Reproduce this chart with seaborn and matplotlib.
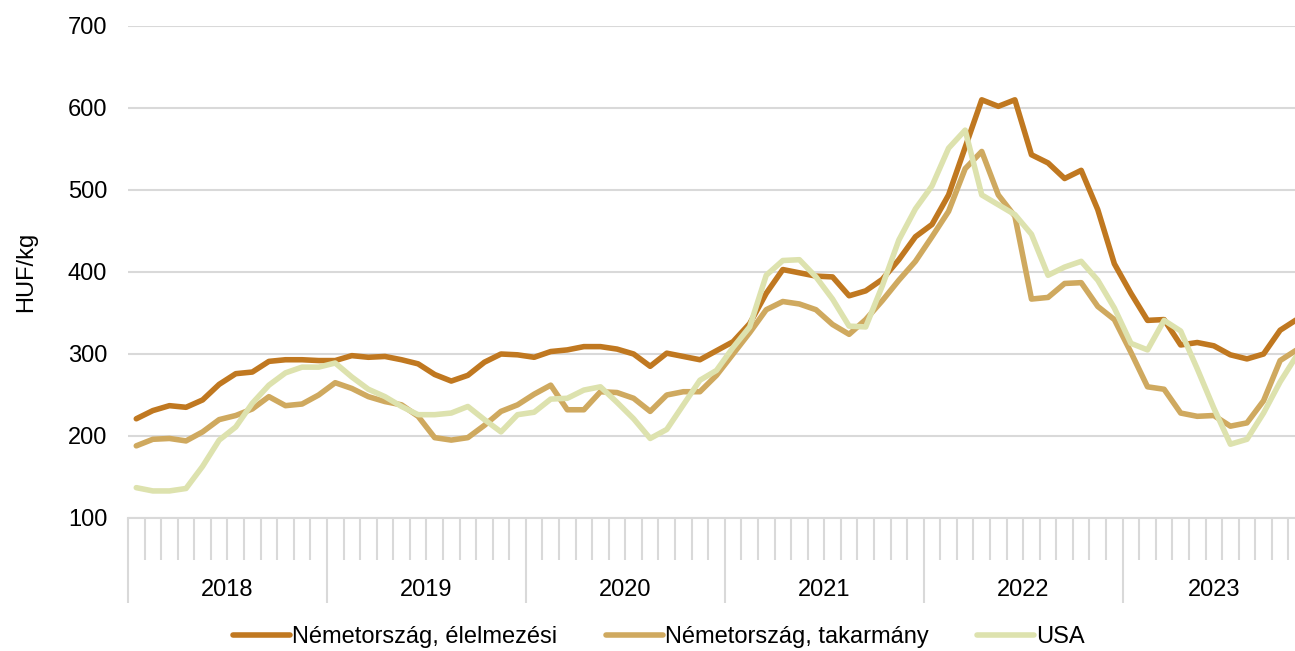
import numpy as np
import pandas as pd
import seaborn as sns
import matplotlib.pyplot as plt
from matplotlib.lines import Line2D

sns.set_theme(style="white")
plt.rcParams["font.family"] = ["Liberation Sans", "DejaVu Sans"]
plt.rcParams["text.color"] = "black"

# monthly data, Jan 2018 - Nov 2023
months = pd.period_range("2018-01", "2023-11", freq="M")
years = ["2018", "2019", "2020", "2021", "2022", "2023"]

nemet_elelmezesi = [
    221, 231, 237, 235, 244, 263, 276, 278, 291, 293, 293, 292,
    292, 298, 296, 297, 293, 288, 275, 267, 274, 290, 300, 299,
    296, 303, 305, 309, 309, 306, 300, 285, 301, 297, 293, 304,
    315, 337, 374, 403, 399, 395, 394, 371, 377, 391, 415, 443,
    458, 494, 552, 610, 602, 610, 543, 533, 514, 524, 476, 410,
    374, 341, 342, 311, 314, 310, 299, 294, 300, 329, 342,
]
nemet_takarmany = [
    188, 196, 197, 194, 205, 220, 225, 233, 248, 237, 239, 250,
    265, 258, 248, 242, 238, 224, 198, 195, 198, 213, 230, 238,
    251, 262, 232, 232, 254, 253, 246, 230, 250, 254, 254, 274,
    300, 326, 354, 364, 361, 354, 336, 324, 342, 365, 390, 413,
    443, 474, 526, 547, 494, 468, 367, 369, 386, 387, 358, 342,
    302, 260, 257, 228, 224, 225, 212, 216, 243, 292, 305,
]
usa = [
    137, 133, 133, 136, 163, 195, 211, 240, 262, 277, 284, 284,
    289, 272, 257, 248, 236, 226, 226, 228, 236, 220, 205, 226,
    229, 245, 246, 256, 260, 241, 221, 197, 208, 238, 268, 280,
    308, 333, 396, 414, 415, 394, 367, 334, 333, 383, 439, 477,
    505, 551, 573, 494, 482, 470, 446, 396, 406, 413, 390, 356,
    313, 305, 341, 328, 282, 234, 190, 196, 228, 266, 298,
]

series_names = ["Németország, élelmezési", "Németország, takarmány", "USA"]
series_colors = ["#C07820", "#CFA95F", "#DDE2AE"]
grid_color = "#D9D9D9"
line_w = 4.0

df = pd.DataFrame({
    "honap": np.arange(len(months)),
    series_names[0]: nemet_elelmezesi,
    series_names[1]: nemet_takarmany,
    series_names[2]: usa,
}).melt(id_vars="honap", var_name="sorozat", value_name="ar")

fig = plt.figure(figsize=(12.95, 6.51), dpi=100)
# plot area runs slightly past the right edge (chart was cropped)
ax = fig.add_axes([128 / 1295, 133 / 651, 1177 / 1295, 492 / 651])

sns.lineplot(
    data=df, x="honap", y="ar", hue="sorozat",
    hue_order=series_names, palette=series_colors,
    estimator=None, sort=False, lw=line_w, legend=False, ax=ax,
)

ax.set_ylim(100, 700)
ax.set_xlim(-0.5, len(months) - 0.5)
ax.set_yticks(range(100, 701, 100))
ax.yaxis.grid(True, color=grid_color, lw=1.5)
ax.set_axisbelow(True)
for side in ["left", "top", "right"]:
    ax.spines[side].set_visible(False)
ax.spines["bottom"].set_color(grid_color)
ax.spines["bottom"].set_linewidth(1.5)

# year boundaries = long ticks, month boundaries = short ticks
year_edges = [12 * i - 0.5 for i in range(len(years))] + [len(months) - 0.5]
ax.set_xticks(year_edges)
ax.set_xticklabels([""] * len(year_edges))
ax.set_xticks(np.arange(-0.5, len(months), 1), minor=True)
ax.tick_params(axis="x", which="both", bottom=True)
ax.tick_params(axis="x", which="major", length=61, width=1.5, color=grid_color, direction="out")
ax.tick_params(axis="x", which="minor", length=30, width=1.5, color=grid_color, direction="out")
ax.tick_params(axis="y", left=False, length=0, pad=15, labelsize=17, labelcolor="black")

for i, year in enumerate(years):
    center = (year_edges[i] + year_edges[i + 1]) / 2
    ax.text(center, -0.146, year, transform=ax.get_xaxis_transform(),
            ha="center", va="center", fontsize=17, color="black")

ax.set_xlabel("")
ax.set_ylabel("HUF/kg", fontsize=17, color="black")
ax.yaxis.set_label_coords(-0.077, 0.5)

handles = [Line2D([0], [0], color=c, lw=line_w) for c in series_colors]
fig.legend(handles, series_names, loc="center", bbox_to_anchor=(0.509, 0.0215),
           ncol=3, frameon=False, fontsize=17, handlelength=2.4,
           handletextpad=0.1, columnspacing=2.05, labelcolor="black")

fig.savefig("out.png", dpi=100)
